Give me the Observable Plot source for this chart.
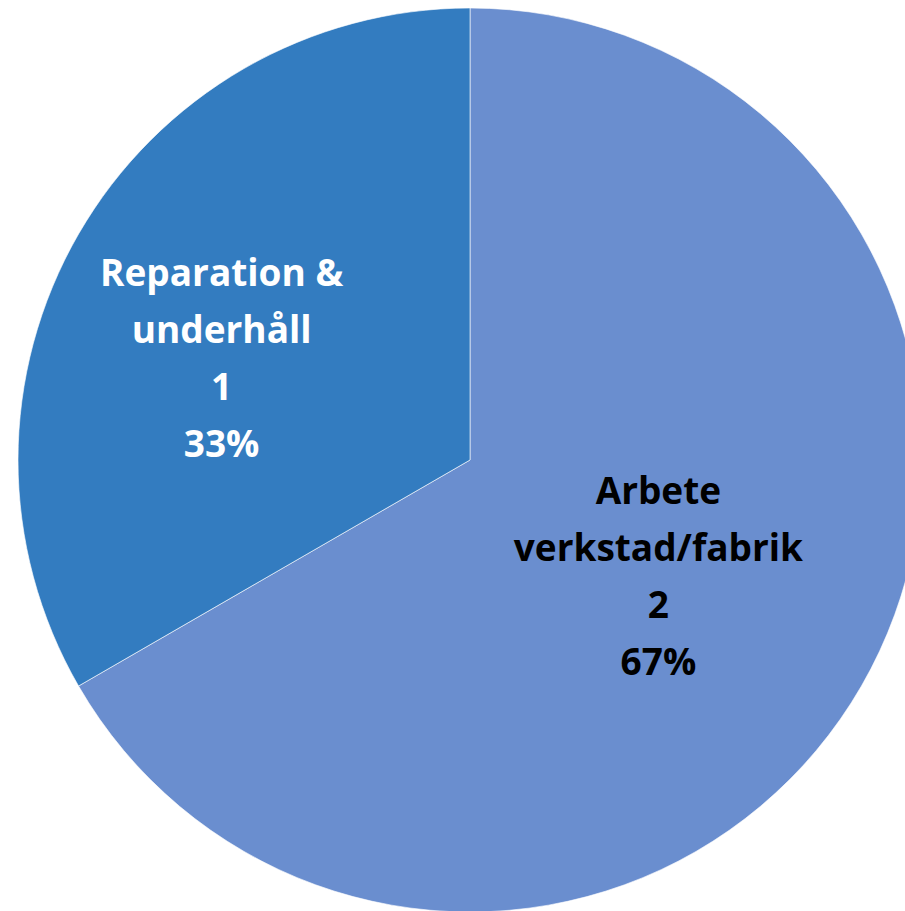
<!DOCTYPE html>
<html>
<head>
<meta charset="utf-8">
<script src="https://cdn.jsdelivr.net/npm/d3@7"></script>
<script src="https://cdn.jsdelivr.net/npm/@observablehq/plot@0.6"></script>
<style>
  html, body { margin: 0; padding: 0; background: #fff; }
  #chart svg { display: block; }
</style>
</head>
<body>
<div id="chart"></div>
<script>
const categories = ["Arbete verkstad/fabrik", "Reparation & underhåll"];
const counts = [2, 1];
const percentLabels = ["67%", "33%"];
const sliceColors = ["#6a8ecf", "#337cc0"];
const textColors = ["#000000", "#ffffff"];

const data = categories.map((c, i) => ({ name: c, value: counts[i], pct: percentLabels[i], color: sliceColors[i], textColor: textColors[i] }));
const arcs = d3.pie().sort(null).value(d => d.value)(data);

// label placement (layout only)
const labelLayout = [{ f: 0.48, dx: 0, dy: 2 }, { f: 0.6, dx: -14, dy: 28 }];
const labels = arcs.map((a, i) => {
  const mid = (a.startAngle + a.endAngle) / 2;
  const L = labelLayout[i];
  const n = a.data.name;
  const k = n.lastIndexOf(" ");
  return {
    x: L.f * Math.sin(mid), y: -L.f * Math.cos(mid), dx: L.dx, dy: L.dy,
    text: n.slice(0, k) + "\n" + n.slice(k + 1) + "\n" + a.data.value + "\n" + a.data.pct,
    fill: a.data.textColor
  };
});

function pieMark(index, scales, values, dimensions, context) {
  const cx = scales.x(0), cy = scales.y(0);
  const r = scales.x(1) - scales.x(0);
  const arcGen = d3.arc().innerRadius(0).outerRadius(r);
  const g = d3.create("svg:g").attr("transform", `translate(${cx},${cy})`);
  g.selectAll("path").data(arcs).join("path")
    .attr("d", arcGen)
    .attr("fill", d => d.data.color)
    .attr("stroke", "#ffffff")
    .attr("stroke-opacity", 0.6)
    .attr("stroke-width", 1);
  return g.node();
}

const chart = Plot.plot({
  width: 905,
  height: 911,
  margin: 0,
  x: { domain: [-1, 1], range: [18, 922], axis: null },
  y: { domain: [-1, 1], range: [8, 912], axis: null },
  style: { background: "#fff" },
  marks: [
    pieMark,
    ...labels.map(l => Plot.text([l], {
      x: "x", y: "y", text: "text",
      dx: l.dx, dy: l.dy,
      fill: l.fill,
      fontSize: 37,
      fontWeight: "bold",
      fontFamily: "Open Sans",
      lineHeight: 1.54,
      textAnchor: "middle"
    }))
  ]
});
document.getElementById("chart").appendChild(chart);
</script>
</body>
</html>
